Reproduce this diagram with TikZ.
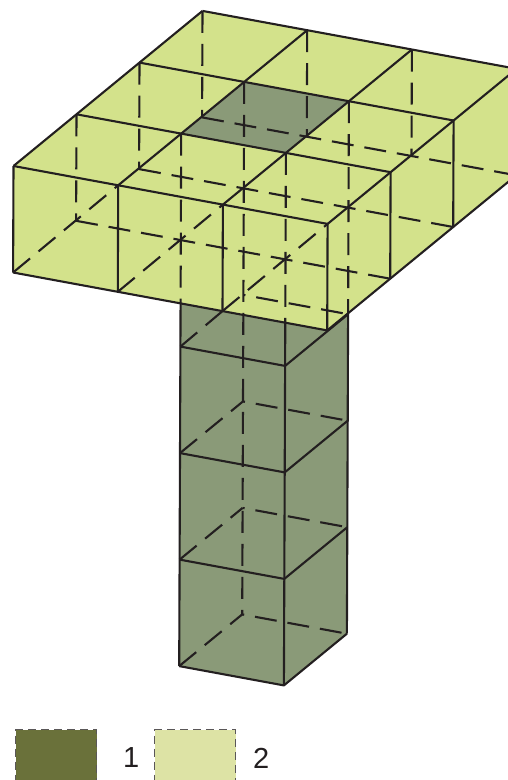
\documentclass[tikz,border=0pt]{standalone}
\usepackage{fontspec}
\setmainfont{Liberation Sans}
\usetikzlibrary{positioning}
\definecolor{columngreen}{RGB}{138,154,120}
\definecolor{slabgreen}{RGB}{211,226,139}
\definecolor{legenddark}{RGB}{106,113,58}
\definecolor{legendlight}{RGB}{221,227,165}
\definecolor{edgeink}{RGB}{35,31,32}

\begin{document}
\begin{tikzpicture}[
            x=1pt, y=-1pt,
            edge/.style={draw=edgeink, line width=2.1pt, line join=round},
            hidden/.style={draw=edgeink, line width=2.1pt, dash pattern=on 22pt off 11pt},
            hiddenback/.style={hidden, dash phase=20pt},
            swatch/.style={draw=edgeink!75, line width=1pt, dash pattern=on 8pt off 5pt,
                    minimum width=81pt, minimum height=53pt, inner sep=0pt, anchor=north west},
            legendlabel/.style={font=\fontsize{29}{29}\selectfont, text=edgeink, inner sep=0pt}
        ]

        \useasboundingbox (0,0) rectangle (508,780);
        \clip (0,0) rectangle (508,780);

        % ---------------------------------------------------------------
        % LATTICE POINTS (p<i><j><k>: along front, towards back, downwards)
        % ---------------------------------------------------------------
        \foreach \i in {0,...,3}
            \foreach \j in {0,...,3}
                \foreach \k in {0,...,5}
                    \coordinate (p\i\j\k) at (13.5+\i*104.7+\j*63-\k*0.4, 166+\i*19.3-\j*51.7+\k*106.5);

        % Where the column edges leave the slab
        \coordinate (cutleft) at (intersection of p110--p115 and p001--p301);
        \coordinate (cutfront) at (intersection of p210--p215 and p001--p301);

        % ---------------------------------------------------------------
        % FILLS
        % ---------------------------------------------------------------

        % Column
        \fill[columngreen] (p110) -- (p115) -- (p215) -- (p225) -- (p220) -- cycle;

        % Slab
        \fill[slabgreen] (p000) -- (p001) -- (p301) -- (p331) -- (p330) -- (p030) -- cycle;

        % Top of the column
        \fill[columngreen] (p110) -- (p210) -- (p220) -- (p120) -- cycle;

        % ---------------------------------------------------------------
        % HIDDEN EDGES
        % ---------------------------------------------------------------

        % Slab, bottom face (the lines towards the back run on into the top grid)
        \foreach \j in {1,2,3}
            \draw[hidden] (p0\j1) -- (p3\j1);
        \draw[hidden] (p001) -- (p100);
        \draw[hidden] (p101) -- (p200);
        \draw[hidden] (p201) -- (p300);

        % Slab, inner verticals
        \draw[hidden] (p010) -- (p011);
        \draw[hidden] (p020) -- (p021);
        \draw[hidden] (p030) -- (p031);
        \draw[hidden] (p130) -- (p131);
        \draw[hidden] (p230) -- (p231);
        \draw[hidden] (p110) -- (cutleft);
        \draw[hidden] (p210) -- (cutfront);
        \draw[hidden] (p220) -- (p222);

        % Column, back edges
        \draw[hidden] (p120) -- (p125);
        \draw[hidden] (p112) -- (p201);
        \draw[hiddenback] (p122) -- (p222);
        \foreach \k in {3,4,5} {
            \draw[hidden] (p11\k) -- (p12\k);
            \draw[hiddenback] (p12\k) -- (p22\k);
        }

        % ---------------------------------------------------------------
        % VISIBLE EDGES
        % ---------------------------------------------------------------

        % Slab, top face
        \foreach \j in {0,1,2,3}
            \draw[edge] (p0\j0) -- (p3\j0);
        \foreach \i in {0,1,2,3}
            \draw[edge] (p\i00) -- (p\i30);

        % Slab, outer verticals and lower outline
        \foreach \i in {0,1,2,3}
            \draw[edge] (p\i00) -- (p\i01);
        \draw[edge] (p310) -- (p311);
        \draw[edge] (p320) -- (p321);
        \draw[edge] (p001) -- (p301) -- (p331);

        % Column
        \draw[edge] (cutleft) -- (p115);
        \draw[edge] (cutfront) -- (p215);
        \draw[edge] (p222) -- (p225);
        \foreach \k in {2,...,5}
            \draw[edge] (p11\k) -- (p21\k) -- (p22\k);

        % ---------------------------------------------------------------
        % LEGEND
        % ---------------------------------------------------------------
        \node[swatch, fill=legenddark] (swatchone) at (15,729) {};
        \node[legendlabel, right=26pt of swatchone.east, yshift=-2pt] (labelone) {1};
        \node[swatch, fill=legendlight] (swatchtwo) at (154,729) {};
        \node[legendlabel, right=17pt of swatchtwo.east, yshift=-2pt] (labeltwo) {2};

    \end{tikzpicture}
\end{document}
